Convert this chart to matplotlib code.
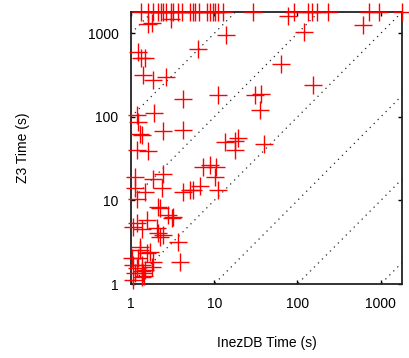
import numpy as np
import matplotlib
matplotlib.use("Agg")
import matplotlib.pyplot as plt

plt.rcParams["font.family"] = ["Liberation Sans", "DejaVu Sans"]

TIMEOUT = 1800

# runs that timed out on Z3 (x = InezDB time)
timeout_x = [1.32, 1.58, 1.85, 2.12, 2.29, 2.44, 2.60, 3.01, 3.21, 3.69, 4.12,
             5.09, 5.57, 5.84, 6.52, 8.2, 9.0, 9.68, 10.3, 11.1, 12.7, 29.2,
             90.3, 133, 148, 172, 231, 728, 959, 1800]

# other runs
inez_x = [1.6, 1.78, 3.0, 14, 6.3, 1.22, 1.32, 1.47, 1.40, 1.85, 2.6, 63.8,
          121, 76.6, 617, 4.23, 11.1, 30.5, 36.8, 35, 152, 1.90, 1.17, 1.2,
          2.44, 4.23, 1.28, 1.34, 13.4, 19.3, 17.6, 17.6, 40, 1.17, 1.6,
          7.3, 8.8, 10.6, 10.1, 1.12, 1.85, 2.44, 1.12, 1.47, 2.33, 4.23,
          5.09, 6.7, 5.57, 11.1, 2.12, 2.22, 3.21, 2.8, 1.17, 1.54, 2.03,
          1.07, 1.34, 2.22, 2.44, 3.69, 3.86, 1.02, 1.22, 1.34, 1.17, 1.47,
          1.77, 1.69, 1.28, 1.12, 1.34, 1.85, 1.06, 1.39, 1.28, 1.54, 2.12,
          3.07, 1.06, 1.34, 1.45, 1.18]
z3_y = [1277, 1313, 1466, 944, 651, 596, 501, 501, 314, 274, 300, 433,
        1040, 1600, 1243, 162, 181, 181, 190, 120, 239, 111, 104, 87,
        67, 70, 63, 60, 50, 56, 52, 40, 48, 40, 39,
        24.8, 26.4, 25.2, 19.1, 19.1, 18.3, 21, 13.9, 12.7, 13.9, 12.7,
        13.3, 14.8, 13.3, 13.3, 8.4, 8.1, 6.4, 6.7, 5.3, 5.8, 4.67,
        4.84, 4.6, 3.67, 3.85, 3.2, 1.85, 2.03, 2.03, 1.69, 1.54, 1.47,
        1.61, 2.43, 2.55, 1.34, 1.22, 1.85, 1.69, 1.35, 2.79, 2.35, 4.07,
        6.1, 1.12, 1.45, 1.25, 10.5]

ticks = [1, 10, 100, 1000]
tick_labels = ["1", "10", "100", "1000"]
diag_powers = [-3, -2, -1, 0, 1, 2, 3]

fig = plt.figure(figsize=(4.09, 3.58), dpi=100)
ax = fig.add_axes([131 / 409, 74 / 358, 271 / 409, 272 / 358])
ax.set_xscale("log")
ax.set_yscale("log")
ax.set_xlim(1, TIMEOUT)
ax.set_ylim(1, TIMEOUT)

# diagonales y = x * 10^k
xs = np.array([1, TIMEOUT])
for k in diag_powers:
    ax.plot(xs, xs * 10.0 ** k, color="0.15", lw=0.9,
            linestyle=(0, (1, 3.5)), zorder=1)

ax.plot(inez_x, z3_y, "+", color="red", ms=13, mew=1.0,
        linestyle="none", clip_on=False, zorder=5)
ax.plot(timeout_x, [TIMEOUT] * len(timeout_x), "+", color="red", ms=13,
        mew=1.0, linestyle="none", clip_on=False, zorder=5)

ax.set_xticks(ticks)
ax.set_xticklabels(tick_labels)
ax.set_yticks(ticks)
ax.set_yticklabels(tick_labels)
ax.minorticks_off()
ax.tick_params(which="both", direction="in", length=3, width=1,
               top=True, right=True, labelsize=10, colors="black")
ax.tick_params(axis="x", pad=9)
ax.tick_params(axis="y", pad=9)
for s in ax.spines.values():
    s.set_linewidth(1.3)
    s.set_color("#222222")

ax.set_xlabel("InezDB Time (s)", fontsize=10)
ax.set_ylabel("Z3 Time (s)", fontsize=10)
ax.xaxis.set_label_coords(0.5, -0.217)
ax.yaxis.set_label_coords(-0.398, 0.5)
ax.xaxis.label.set_va("center")
ax.yaxis.label.set_va("center")

fig.savefig("out.png", dpi=100)
